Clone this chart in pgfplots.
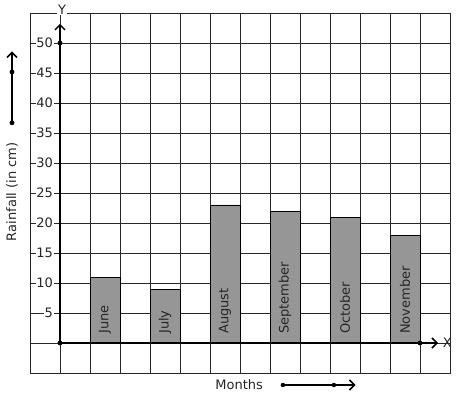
\documentclass[border=0pt]{standalone}
\usepackage{fontspec}
\setmainfont{DejaVu Sans}
\usepackage{pgfplots}
\pgfplotsset{compat=1.18}
\usetikzlibrary{arrows.meta}
\definecolor{barg}{RGB}{150,150,150}
\definecolor{gridc}{RGB}{40,40,40}
\begin{document}
\fontsize{13bp}{15bp}\selectfont
\begin{tikzpicture}
\begin{axis}[
  scale only axis,
  x=30bp, y=6bp,
  xmin=-1, xmax=13, ymin=-5, ymax=55,
  xtick={-1,0,...,13}, ytick={-5,0,...,55},
  xticklabels={}, yticklabels={},
  grid=major,
  grid style={gridc, line width=0.8bp},
  axis line style={gridc, line width=0.8bp},
  major tick length=0pt,
  clip=false,
]
% bars
\addplot[ybar, bar width=30bp, bar shift=0pt, fill=barg, draw=black, line width=0.6bp]
  coordinates {(1.5,11) (3.5,9) (5.5,23) (7.5,22) (9.5,21) (11.5,18)};
% y tick labels
\foreach \yy in {5,10,...,50}{
  \edef\tmp{\noexpand\node[anchor=east, fill=white, inner sep=0.8bp, text=black!85] at (axis cs:-0.2,\yy) {\yy};}
  \tmp
}
% bar labels
\foreach \xx/\lab in {1.5/June,3.5/July,5.5/August,7.5/September,9.5/October,11.5/November}{
  \edef\tmp{\noexpand\node[rotate=90, anchor=west, inner sep=0pt, text=black!85] at (axis cs:\xx,1.5) {\lab};}
  \tmp
}
% axes
\draw[line width=2.5bp, -{Straight Barb[length=5bp,width=10bp,line width=1.5bp]}] (axis cs:0,0) -- (axis cs:0,53.2);
\draw[line width=2.5bp, -{Straight Barb[length=5bp,width=10bp,line width=1.5bp]}] (axis cs:0,0) -- (axis cs:12.6,0);
\addplot[only marks, mark=*, mark size=2.2bp, black] coordinates {(0,0) (0,50) (12,0)};
\node[fill=white, inner sep=1bp, text=black!85] at (axis cs:0.07,55.6) {Y};
\node[anchor=west, inner sep=1bp, text=black!85] at (axis cs:12.72,0) {X};
% side decorations
\draw[line width=2.5bp, -{Straight Barb[length=5bp,width=10bp,line width=1.5bp]}] (axis cs:-1.6,36.7) -- (axis cs:-1.6,48.6);
\addplot[only marks, mark=*, mark size=2.2bp, black] coordinates {(-1.6,36.7) (-1.6,45.17)};
\node[rotate=90, text=black!85] at (axis cs:-1.6,25.2) {Rainfall (in cm)};
\node[text=black!85] at (axis cs:5.97,-7) {Months};
\draw[line width=2bp, -{Straight Barb[length=5bp,width=10bp,line width=1.5bp]}] (axis cs:7.43,-7) -- (axis cs:9.85,-7);
\addplot[only marks, mark=*, mark size=2bp, black] coordinates {(7.43,-7) (9.13,-7)};
% bounding box
\path (axis cs:-2,-9.333) rectangle (axis cs:13.2333,57.1667);
\end{axis}
\end{tikzpicture}
\end{document}
